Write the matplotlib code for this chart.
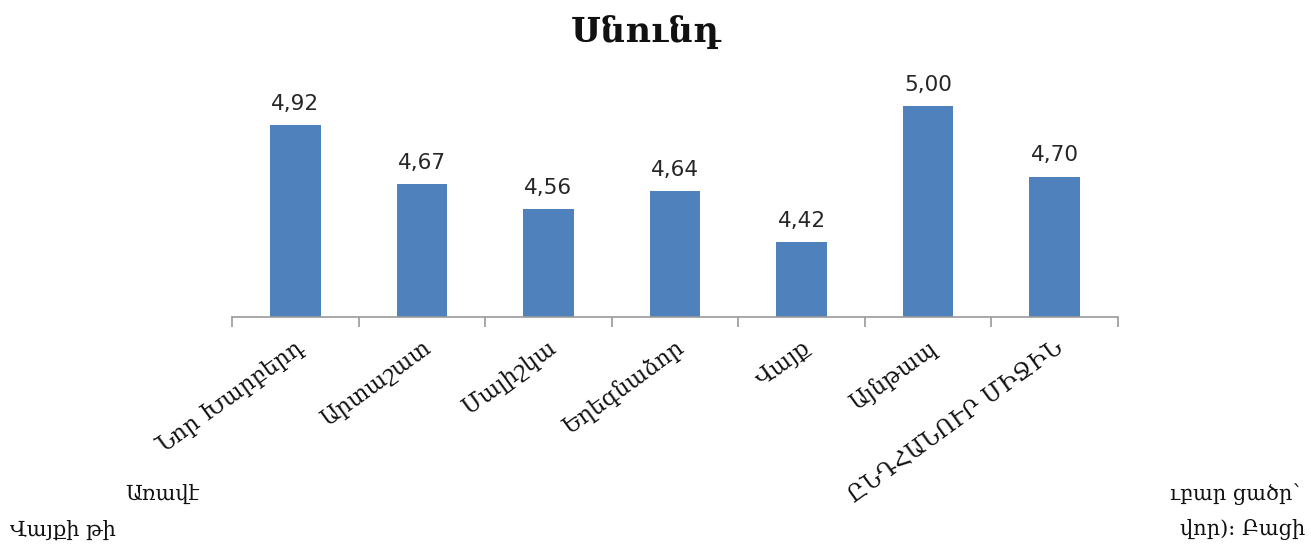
import matplotlib
matplotlib.use("Agg")
import matplotlib.pyplot as plt

categories = ["Նոր Խարբերդ", "Արտաշատ", "Մալիշկա", "Եղեգնաձոր", "Վայք", "Այնթապ", "ԸՆԴՀԱՆՈՒՐ ՄԻՋԻՆ"]
values = [4.92, 4.67, 4.56, 4.64, 4.42, 5.00, 4.70]
value_labels = ["4,92", "4,67", "4,56", "4,64", "4,42", "5,00", "4,70"]
title = "Սնունդ"

serif = ["DejaVu Serif", "DejaVu Sans"]

W, H = 1311, 552
fig = plt.figure(figsize=(W / 100, H / 100), dpi=100)
ax_left, ax_right = 232, 1118
ax_bottom, ax_top = 317, 83
ax = fig.add_axes([ax_left / W, 1 - ax_bottom / H, (ax_right - ax_left) / W, (ax_bottom - ax_top) / H])

x = list(range(len(categories)))
bars = ax.bar(x, values, width=0.4, color="#4F81BD", bottom=0)
ax.set_ylim(4.1, 5.1)
ax.set_xlim(-0.5, len(categories) - 0.5)

for xi, v, lab in zip(x, values, value_labels):
    ax.annotate(lab, (xi, v), xytext=(0, 8), textcoords="offset points",
                ha="center", va="bottom", fontsize=15.5, color="#262626",
                family=["DejaVu Sans"])

for s in ["top", "right", "left"]:
    ax.spines[s].set_visible(False)
ax.spines["bottom"].set_color("#999999")
ax.spines["bottom"].set_linewidth(1.2)
ax.set_yticks([])
ax.set_xticks([i - 0.5 for i in range(len(categories) + 1)], minor=False)
ax.set_xticklabels([])
ax.tick_params(axis="x", direction="out", length=7, color="#999999", width=1.2)
ax.set_xticks(x, minor=True)
ax.set_xticklabels(categories, minor=True, rotation=36, ha="right", va="top",
                   rotation_mode="anchor", fontsize=16.5, family=serif, color="#111111")
ax.tick_params(axis="x", which="minor", length=0, pad=14)

fig.text(646 / W, 1 - 33 / H, title, ha="center", va="center", fontsize=25,
         fontweight="bold", family=serif, color="#111111")

fig.text(125 / W, 1 - 494 / H, "Առավէ", ha="left", va="center", fontsize=15, family=serif, color="#111111")
fig.text(10 / W, 1 - 530 / H, "Վայքի թի", ha="left", va="center", fontsize=15, family=serif, color="#111111")
fig.text(1300 / W, 1 - 494 / H, "ւբար ցածր՝", ha="right", va="center", fontsize=15, family=serif, color="#111111")
fig.text(1305 / W, 1 - 530 / H, "վոր)։ Բացի", ha="right", va="center", fontsize=15, family=serif, color="#111111")

fig.savefig("out.png", dpi=100, facecolor="white")
